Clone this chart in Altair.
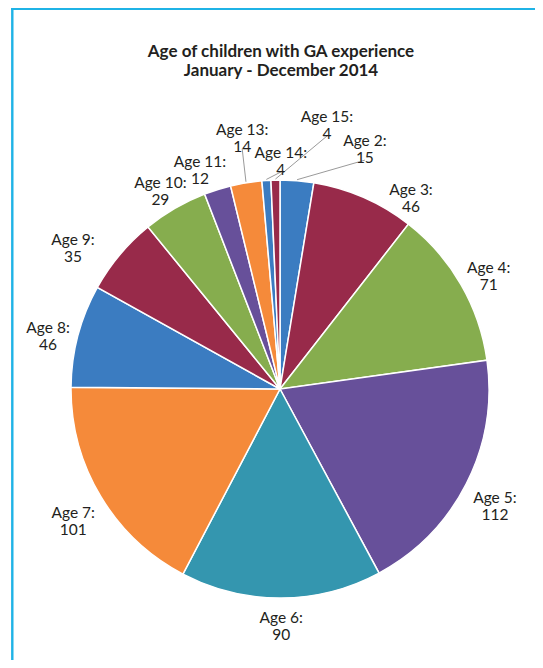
import math
import altair as alt
import pandas as pd

# ---- data ----
ages = ["Age 2", "Age 3", "Age 4", "Age 5", "Age 6", "Age 7", "Age 8",
        "Age 9", "Age 10", "Age 11", "Age 13", "Age 14", "Age 15"]
counts = [15, 46, 71, 112, 90, 101, 46, 35, 29, 12, 14, 4, 4]
slice_colors = ["#3B7CC1", "#982A4A", "#86AD4E", "#67509A", "#3496AF", "#F58A3A",
                "#3B7CC1", "#982A4A", "#86AD4E", "#67509A", "#F58A3A", "#3B7CC1", "#982A4A"]
title_lines = ["Age of children with GA experience", "January - December 2014"]

# ---- layout ----
W, H = 527, 652
CX, CY = 272, 381
R = 209
FONT = "Lato"

# label placement overrides (angle in degrees clockwise from top, radius px)
label_override = {
    "Age 2": (18.9, 262), "Age 3": (33.4, 238), "Age 9": (305.7, 255),
    "Age 11": (340.6, 241), "Age 13": (351.7, 262), "Age 14": (0.2, 236),
    "Age 15": (9.8, 276),
}
leader_for = ["Age 2", "Age 13", "Age 14", "Age 15"]

total = sum(counts)
rows = []
cum = 0
for i, (a, v) in enumerate(zip(ages, counts)):
    mid = 360.0 * (cum + v / 2.0) / total
    cum += v
    m = math.radians(mid)
    if a in label_override:
        la, lr = label_override[a]
    else:
        la, lr = mid, R + 6 + 22 * abs(math.sin(m)) + 14 * abs(math.cos(m))
    t = math.radians(la)
    lx = CX + lr * math.sin(t)
    ly = CY - lr * math.cos(t)
    rows.append(dict(age=a, value=v, idx=i, label=f"{a}:\n{v}",
                     lx=lx, ly=ly,
                     sx=CX + (R + 1) * math.sin(m), sy=CY - (R + 1) * math.cos(m),
                     ex=lx, ey=ly + 19, leader=a in leader_for))
df = pd.DataFrame(rows)

pie = alt.Chart(df).mark_arc(outerRadius=R, stroke="white", strokeWidth=1.5).encode(
    theta=alt.Theta("value:Q", stack=True),
    order=alt.Order("idx:Q"),
    color=alt.Color("age:N", scale=alt.Scale(domain=ages, range=slice_colors), legend=None),
    x=alt.value(CX), y=alt.value(CY),
)

leaders = alt.Chart(df).transform_filter("datum.leader").mark_rule(
    color="#9A9A9A", strokeWidth=1).encode(
    x=alt.X("sx:Q", scale=None), y=alt.Y("sy:Q", scale=None),
    x2="ex:Q", y2="ey:Q",
)

labels = alt.Chart(df).mark_text(
    font=FONT, fontSize=15.5, color="#231F20", lineBreak="\n",
    lineHeight=17, align="center", baseline="middle").encode(
    x=alt.X("lx:Q", scale=None), y=alt.Y("ly:Q", scale=None), text="label:N",
)

tdf = pd.DataFrame({"t": title_lines, "k": [0, 1]})
title = alt.Chart(tdf).mark_text(
    font=FONT, fontSize=17, fontWeight="bold", color="#231F20",
    align="center", baseline="middle").encode(
    x=alt.value(273),
    y=alt.Y("k:Q", scale=alt.Scale(domain=[0, 1], range=[43.5, 62.5]), axis=None),
    text="t:N",
)

border_top = alt.Chart(tdf).mark_rule(color="#1FB3E6", strokeWidth=2).encode(
    x=alt.value(3), x2=alt.value(W), y=alt.value(1))
border_left = alt.Chart(tdf).mark_rule(color="#1FB3E6", strokeWidth=2).encode(
    x=alt.value(4.3), y=alt.value(0), y2=alt.value(H))

chart = alt.layer(pie, leaders, labels, title, border_top, border_left).properties(
    width=W, height=H, padding=0, autosize=alt.AutoSizeParams(type="none")
).configure_view(stroke=None)

chart.save("out.html", embed_options={"renderer": "svg", "actions": False})
